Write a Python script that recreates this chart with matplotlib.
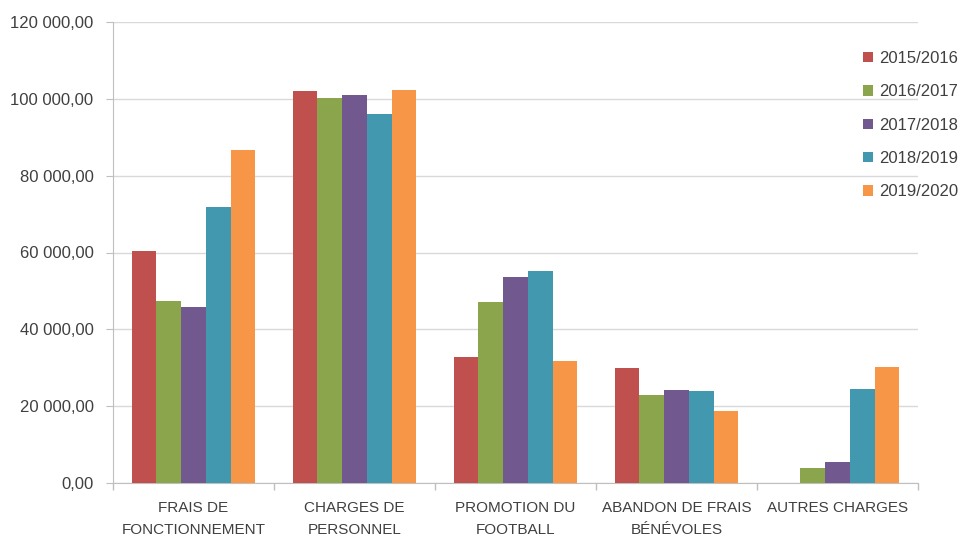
import matplotlib.pyplot as plt
import numpy as np
from matplotlib.ticker import FuncFormatter, FixedLocator

plt.rcParams['font.family'] = ['Liberation Sans', 'DejaVu Sans']

categories = ['FRAIS DE\nFONCTIONNEMENT', 'CHARGES DE\nPERSONNEL', 'PROMOTION DU\nFOOTBALL',
              'ABANDON DE FRAIS\nBÉNÉVOLES', 'AUTRES CHARGES']
seasons = ['2015/2016', '2016/2017', '2017/2018', '2018/2019', '2019/2020']

v_2015 = [60300, 102000, 32900, 30000, 0]
v_2016 = [47500, 100300, 47000, 22900, 3800]
v_2017 = [45900, 101000, 53500, 24200, 5500]
v_2018 = [71900, 96100, 55200, 23900, 24500]
v_2019 = [86600, 102400, 31700, 18800, 30300]
values = [v_2015, v_2016, v_2017, v_2018, v_2019]

colors = ['#C0504D', '#8BA54D', '#71588F', '#4198AF', '#F79646']
text_col = '#404040'
grid_col = '#D9D9D9'

fig = plt.figure(figsize=(9.62, 5.38), dpi=100)
ax = fig.add_axes([113/962, 1 - 483/538, (918-113)/962, (483-22)/538])

x = np.arange(len(categories))
w = 1 / 6.5
for k, (s, vals) in enumerate(zip(seasons, values)):
    ax.bar(x + (k - 2) * w, vals, width=w, color=colors[k], label=s, zorder=3)

ax.set_xlim(-0.5, len(categories) - 0.5)
ax.set_ylim(0, 120000)
ax.set_yticks(np.arange(0, 120001, 20000))

def fr(v, pos):
    s = f"{v:,.2f}".replace(',', ' ').replace('.', ',')
    return s
ax.yaxis.set_major_formatter(FuncFormatter(fr))
ax.grid(axis='y', color=grid_col, linewidth=1, zorder=0)

ax.set_xticks(x)
ax.set_xticklabels(categories, fontsize=11, color=text_col, linespacing=1.75)
ax.tick_params(axis='x', length=0, pad=13)
ax.xaxis.set_minor_locator(FixedLocator(np.arange(-0.5, len(categories), 1)))
ax.tick_params(axis='x', which='minor', length=5, color='#BFBFBF', width=1)
ax.tick_params(axis='y', length=5, color='#BFBFBF', labelsize=12, labelcolor=text_col, pad=9)

for sp in ['top', 'right']:
    ax.spines[sp].set_visible(False)
ax.spines['left'].set_color('#BFBFBF')
ax.spines['bottom'].set_color('#BFBFBF')

fig.legend(loc='upper left', bbox_to_anchor=(848/962, 1 - 36/538), frameon=False,
           fontsize=12, handlelength=0.6, handleheight=0.6, handletextpad=0.35,
           labelspacing=1.1, labelcolor=text_col)

fig.savefig('out.png', dpi=100)
